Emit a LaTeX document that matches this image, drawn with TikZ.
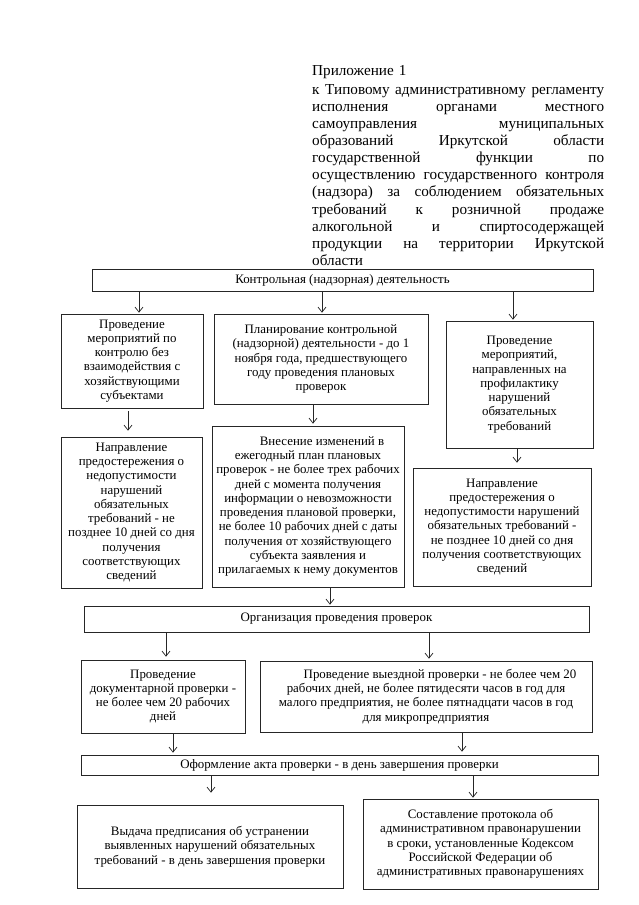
\documentclass[tikz,border=0pt]{standalone}
\usepackage{fontspec}
\setmainfont{Liberation Serif}
\usetikzlibrary{arrows.meta}
\newcommand{\jline}[1]{\leavevmode\hbox to 292pt{\spaceskip=0.25em plus 1fill\relax #1}}
\begin{document}
\begin{tikzpicture}[x=1pt,y=-1pt,
  box/.style={draw=black!85, line width=0.7pt, inner sep=0pt, align=center,
    font=\fontsize{12.9}{14.3}\selectfont, text=black},
  arr/.style={draw=black!85, line width=0.7pt, -{Straight Barb[length=5pt,width=8pt]}},
  hdrtext/.style={anchor=north west, inner sep=0pt, text width=292pt, align=left,
    font=\fontsize{15.2}{17.1}\selectfont, text=black}]
\fill[white] (0,0) rectangle (639,905);
\useasboundingbox (0,0) rectangle (639,905);

% header
\node[hdrtext] (hdr) at (312,65) {Приложение 1\\[2pt]
\jline{к Типовому административному регламенту}\\
\jline{исполнения органами местного}\\
\jline{самоуправления муниципальных}\\
\jline{образований Иркутской области}\\
\jline{государственной функции по}\\
\jline{осуществлению государственного контроля}\\
\jline{(надзора) за соблюдением обязательных}\\
\jline{требований к розничной продаже}\\
\jline{алкогольной и спиртосодержащей}\\
\jline{продукции на территории Иркутской}\\
области};

% boxes
\node[box, minimum width=501pt, minimum height=22pt] (top) at (342.5,280) {Контрольная (надзорная) деятельность};
\node[box, minimum width=142pt, minimum height=94pt] (l1) at (132,361) {Проведение\\мероприятий по\\контролю без\\взаимодействия с\\хозяйствующими\\субъектами};
\node[box, minimum width=214pt, minimum height=90pt] (m1) at (321,359) {Планирование контрольной\\(надзорной) деятельности - до 1\\ноября года, предшествующего\\году проведения плановых\\проверок};
\node[box, minimum width=147pt, minimum height=127pt] (r1) at (519.5,384.5) {Проведение\\мероприятий,\\направленных на\\профилактику\\нарушений\\обязательных\\требований};
\node[box, minimum width=141pt, minimum height=151pt] (l2) at (131.5,512.5) {Направление\\предостережения о\\недопустимости\\нарушений\\обязательных\\требований - не\\позднее 10 дней со дня\\получения\\соответствующих\\сведений};
\node[box, minimum width=192pt, minimum height=161pt] (m2) at (308,506.5) {\hspace*{28pt}Внесение изменений в\\ежегодный план плановых\\проверок - не более трех рабочих\\дней с момента получения\\информации о невозможности\\проведения плановой проверки,\\не более 10 рабочих дней с даты\\получения от хозяйствующего\\субъекта заявления и\\прилагаемых к нему документов};
\node[box, minimum width=178pt, minimum height=118pt] (r2) at (502,527) {Направление\\предостережения о\\недопустимости нарушений\\обязательных требований -\\не позднее 10 дней со дня\\получения соответствующих\\сведений};
\node[box, minimum width=505pt, minimum height=26pt] (org) at (336.5,619) {Организация проведения проверок};
\node[box, minimum width=164pt, minimum height=73pt] (doc) at (163,696.5) {Проведение\\документарной проверки -\\не более чем 20 рабочих\\дней};
\node[box, minimum width=332pt, minimum height=71pt] (fld) at (426,696.5) {\hspace*{28pt}Проведение выездной проверки - не более чем 20\\рабочих дней, не более пятидесяти часов в год для\\малого предприятия, не более пятнадцати часов в год\\для микропредприятия};
\node[box, minimum width=517pt, minimum height=20pt] (act) at (339.5,765) {Оформление акта проверки - в день завершения проверки};
\node[box, minimum width=266pt, minimum height=83pt] (bl) at (210,846.5) {Выдача предписания об устранении\\выявленных нарушений обязательных\\требований - в день завершения проверки};
\node[box, minimum width=235pt, minimum height=90pt] (br) at (480.5,844) {Составление протокола об\\административном правонарушении\\в сроки, установленные Кодексом\\Российской Федерации об\\административных правонарушениях};

% x positions of connectors
\coordinate (xa) at (139,0);
\coordinate (xb) at (322,0);
\coordinate (xc) at (513,0);
\coordinate (xd) at (128,0);
\coordinate (xe) at (313,0);
\coordinate (xf) at (517,0);
\coordinate (xg) at (330,0);
\coordinate (xh) at (166,0);
\coordinate (xi) at (429,0);
\coordinate (xj) at (173,0);
\coordinate (xk) at (462,0);
\coordinate (xl) at (211,0);
\coordinate (xm) at (473,0);

% connectors
\draw[arr, shorten >=1pt] (top.south -| xa) -- (l1.north -| xa);
\draw[arr, shorten >=1pt] (top.south -| xb) -- (m1.north -| xb);
\draw[arr, shorten >=1pt] (top.south -| xc) -- (r1.north -| xc);
\draw[arr, shorten <=3pt, shorten >=6pt] (l1.south -| xd) -- (l2.north -| xd);
\draw[arr, shorten >=2pt] (m1.south -| xe) -- (m2.north -| xe);
\draw[arr, shorten >=5pt] (r1.south -| xf) -- (r2.north -| xf);
\draw[arr, shorten >=1pt] (m2.south -| xg) -- (org.north -| xg);
\draw[arr, shorten >=3pt] (org.south -| xh) -- (doc.north -| xh);
\draw[arr, shorten >=2pt] (org.south -| xi) -- (fld.north -| xi);
\draw[arr, shorten >=2pt] (doc.south -| xj) -- (act.north -| xj);
\draw[arr, shorten >=3pt] (fld.south -| xk) -- (act.north -| xk);
\draw[arr, shorten >=12pt] (act.south -| xl) -- (bl.north -| xl);
\draw[arr, shorten >=1pt] (act.south -| xm) -- (br.north -| xm);
\end{tikzpicture}
\end{document}
